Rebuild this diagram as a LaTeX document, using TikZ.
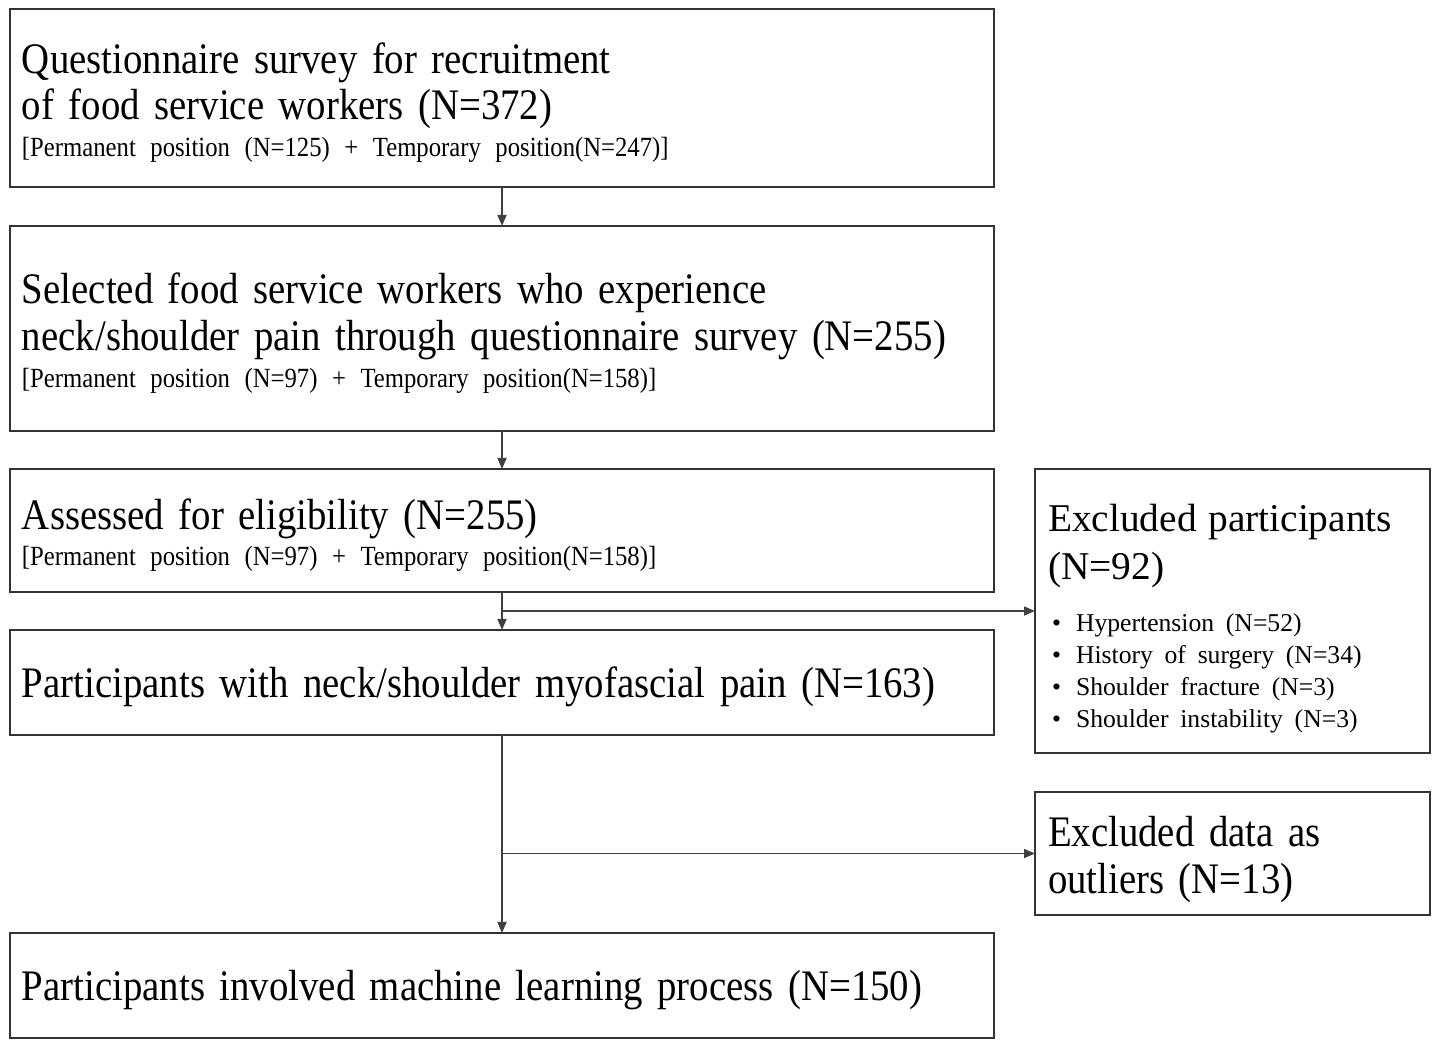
\documentclass[tikz,border=0pt]{standalone}
\usepackage{fontspec}
\setmainfont{Liberation Serif}
\newfontfamily\narrowfont[FakeStretch=0.89]{Liberation Serif}
\usetikzlibrary{positioning,arrows.meta,calc}

\tikzset{
  stagebox/.style={draw=black!80, line width=0.7pt, outer sep=0pt,
    minimum width=9.84cm, text width=9.6cm, inner xsep=1.2mm, align=left,
    font=\narrowfont\fontsize{12.4}{13.3}\selectfont},
  sidebox/.style={draw=black!80, line width=0.7pt, outer sep=0pt,
    minimum width=3.95cm, text width=3.69cm, inner xsep=1.3mm, align=left},
  flow/.style={draw=black!75, line width=0.45pt,
    -{Triangle[length=1.1mm,width=0.9mm]}}
}
\newcommand{\poscount}[1]{\par{\fontsize{7.9}{10.5}\selectfont #1\par}}
\newcommand{\exitem}[1]{\hspace*{0.4mm}\makebox[2.4mm][l]{\textbullet}#1}
\newcommand{\topgap}[1]{\rule{0pt}{#1}}

\begin{document}
\begin{tikzpicture}
  \useasboundingbox (0,0) rectangle (14.43,-10.43);
  % main flow
  \node[stagebox, minimum height=1.78cm, anchor=north west] (survey) at (0.10,-0.09)
    {\topgap{11.4pt}Questionnaire survey for recruitment\\of food service workers (N=372)
     \poscount{[Permanent position (N=125) + Temporary position(N=247)]}};
  \node[stagebox, minimum height=2.05cm, below=0.39cm of survey] (selected)
    {\topgap{11.4pt}Selected food service workers who experience\\neck/shoulder pain through questionnaire survey (N=255)
     \poscount{[Permanent position (N=97) + Temporary position(N=158)]}};
  \node[stagebox, minimum height=1.23cm, below=0.38cm of selected] (assessed)
    {\topgap{11.4pt}Assessed for eligibility (N=255)
     \poscount{[Permanent position (N=97) + Temporary position(N=158)]}};
  \node[stagebox, minimum height=1.05cm, below=0.38cm of assessed] (myofascial)
    {\topgap{11.4pt}Participants with neck/shoulder myofascial pain (N=163)};
  \node[stagebox, minimum height=1.05cm, below=1.98cm of myofascial] (learning)
    {\topgap{11.4pt}Participants involved machine learning process (N=150)};

  % exclusions
  \node[sidebox, minimum height=2.84cm, anchor=north west] (exclpart)
    at ([xshift=4.1mm]assessed.north east)
    {{\fontsize{11.2}{13.6}\selectfont \topgap{12.3pt}Excluded participants\\(N=92)\par}
     \vspace{5.7pt}
     {\fontsize{7.3}{9.1}\selectfont
      \exitem{Hypertension (N=52)}\\
      \exitem{History of surgery (N=34)}\\
      \exitem{Shoulder fracture (N=3)}\\
      \exitem{Shoulder instability (N=3)}\par}};
  \node[sidebox, minimum height=1.23cm, below=0.39cm of exclpart,
        font=\narrowfont\fontsize{12.4}{13.6}\selectfont] (outliers)
    {\topgap{12pt}Excluded data as\\outliers (N=13)};

  \coordinate (split1) at ($(assessed.south)!0.5!(myofascial.north)$);
  \coordinate (split2) at (myofascial.south |- outliers.west);

  \draw[flow] (survey) -- (selected);
  \draw[flow] (selected) -- (assessed);
  \draw[flow] (assessed) -- (myofascial);
  \draw[flow] (split1) -- (exclpart.west);
  \draw[flow] (myofascial) -- (learning);
  \draw[flow] (split2) -- (outliers.west);
\end{tikzpicture}
\end{document}
